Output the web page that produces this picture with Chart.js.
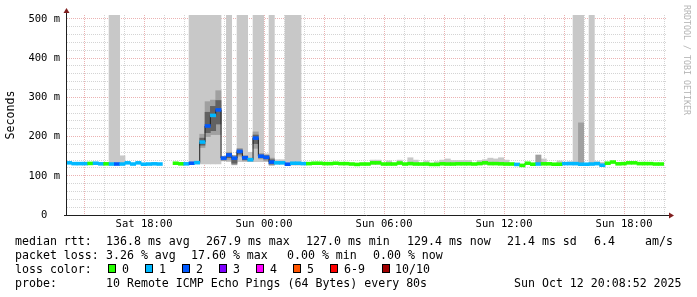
<!DOCTYPE html>
<html>
<head>
<meta charset="utf-8">
<script src="https://cdn.jsdelivr.net/npm/chart.js@4.4.1/dist/chart.umd.min.js"></script>
<style>
  html, body { margin: 0; padding: 0; background: #fff; }
  #wrap { position: relative; width: 697px; height: 297px; overflow: hidden; background: #fff; }
  #c { position: absolute; left: 0; top: 0; }
  .t { position: absolute; font-family: "DejaVu Sans Mono", monospace; font-size: 11.6px; line-height: 14px; white-space: pre; color: #000; }
  .box { position: absolute; top: 264px; width: 6px; height: 7px; border: 1px solid #000; }
  #wm { position: absolute; left: 692px; top: 5px; transform-origin: 0 0; transform: rotate(90deg);
        font-family: "DejaVu Sans Mono", monospace; font-size: 8.3px; line-height: 10px; color: #b4b4b4; white-space: pre; }
</style>
</head>
<body>
<div id="wrap">
  <canvas id="c" width="697" height="297"></canvas>
  <div id="wm">RRDTOOL / TOBI OETIKER</div>

  <div class="t" style="left:15px;top:234px">median rtt:</div>
  <div class="t" style="left:106px;top:234px">136.8 ms avg</div>
  <div class="t" style="left:206px;top:234px">267.9 ms max</div>
  <div class="t" style="left:306px;top:234px">127.0 ms min</div>
  <div class="t" style="left:407px;top:234px">129.4 ms now</div>
  <div class="t" style="left:507px;top:234px">21.4 ms sd</div>
  <div class="t" style="left:594px;top:234px">6.4</div>
  <div class="t" style="left:645px;top:234px">am/s</div>

  <div class="t" style="left:15px;top:248px">packet loss:</div>
  <div class="t" style="left:106px;top:248px">3.26 % avg</div>
  <div class="t" style="left:191px;top:248px">17.60 % max</div>
  <div class="t" style="left:287px;top:248px">0.00 % min</div>
  <div class="t" style="left:373px;top:248px">0.00 % now</div>

  <div class="t" style="left:15px;top:262px">loss color:</div>
  <div id="lossLegend"></div>

  <div class="t" style="left:15px;top:276px">probe:</div>
  <div class="t" style="left:106px;top:276px">10 Remote ICMP Echo Pings (64 Bytes) every 80s</div>
  <div class="t" style="left:514px;top:276px">Sun Oct 12 20:08:52 2025</div>
</div>
<script>
// 16-minute consolidated steps, hours counted from Sat 00:00
const binStartHour = 14.1165;
const binHours = 16 / 60;
const viewStart = 14.148;
const viewEnd = 44.148;

// median rtt per step (ms), null = no data
const medianMs = [
  133, 131, 131, 131, 131.5, 132, 130.5, 130.5, 130, 130,
  130, 133, 130, 133, 129.5, 130, 130.5, 130, null, null,
  132, 130.5, 130.5, 132, 133.5, 186, 227, 254, 268, 145,
  153, 145, 162, 146, 141, 196, 150, 147, 135, 133,
  133, 129.5, 132, 132, 131, 131, 132, 132, 131, 131,
  132, 131, 131, 130, 129, 130, 130, 133, 133, 130,
  130, 130, 132.5, 130, 131, 130, 130, 130, 129, 129,
  130.5, 130, 130, 130.5, 130.5, 130.5, 130, 131, 133, 131,
  131, 130.5, 130, 130, 129, 126.5, 132, 129.5, 130, 130.5,
  130.5, 129.5, 129.5, 131, 131, 131, 129.5, 129.5, 130, 131,
  127, 132, 135, 130.5, 131, 133, 133, 131, 131, 131,
  130, 130
];

// lost pings out of 10 per step
const lossLevel = [
  1, 1, 1, 1, 0, 1, 1, 0, 1, 2,
  1, 1, 1, 1, 1, 1, 1, 1, 0, 0,
  0, 0, 1, 2, 1, 1, 2, 1, 2, 2,
  2, 2, 2, 2, 1, 2, 2, 2, 2, 1,
  1, 2, 1, 1, 1, 0, 0, 0, 0, 0,
  0, 0, 0, 0, 0, 0, 0, 0, 0, 0,
  0, 0, 0, 0, 0, 0, 0, 0, 0, 0,
  0, 0, 0, 0, 0, 0, 0, 0, 0, 0,
  0, 0, 0, 0, 1, 0, 0, 0, 1, 0,
  0, 0, 0, 1, 1, 1, 1, 1, 1, 1,
  1, 0, 0, 0, 0, 0, 0, 0, 0, 0,
  0, 0
];

// outer smoke (min..max ping), only steps where it shows
const lightBins = [8, 9, 10, 23, 24, 25, 26, 27, 28, 30,
  32, 33, 34, 35, 36, 37, 38, 39, 40, 41,
  42, 43, 57, 58, 60, 62, 64, 65, 67, 69,
  70, 71, 72, 73, 74, 75, 77, 78, 79, 80,
  81, 82, 89, 92, 94, 95, 96, 98, 99, 100];
const lightLo = [128, 128, 128, 130, 130, 130, 130, 130, 130, 136,
  136, 136, 136, 136, 136, 136, 128, 130, 130, 127,
  127, 127, 129, 129, 129, 129, 129, 129, 129, 128,
  129, 129, 129, 129, 129, 129, 129, 129, 129, 129,
  129, 129, 129, 128, 129, 128, 128, 128, 128, 126];
const lightHi = [520, 520, 151, 520, 520, 520, 520, 520, 520, 520,
  520, 520, 160, 520, 520, 156, 520, 141, 141, 520,
  520, 520, 140, 140, 138, 140, 146, 140, 138, 136,
  140, 143, 139, 139, 139, 139, 139, 141, 145, 143,
  146, 140, 143, 138, 136, 520, 520, 520, 136, 134];

// middle smoke
const midBins = [25, 26, 27, 28, 29, 30, 31, 32, 33, 34, 35, 36, 37, 38, 88, 96];
const midLo = [172, 200, 205, 205, 138, 140, 128, 150, 138, 137, 170, 143, 138, 127, 129, 128];
const midHi = [206, 289, 293, 317, 150, 160, 152, 170, 152, 145, 212, 157, 153, 145, 153, 235];

// inner smoke
const innerBins = [25, 26, 27, 28, 30, 31, 32, 33, 35, 36, 37, 38];
const innerLo = [178, 210, 215, 232, 146, 132, 155, 141, 182, 146, 143, 130];
const innerHi = [196, 262, 277, 292, 157, 147, 166, 149, 204, 153, 151, 141];

const lossNames = ['0', '1', '2', '3', '4', '5', '6-9', '10/10'];
const lossColors = ['#26ff00', '#00b8ff', '#0059ff', '#7e00ff', '#ff00ff', '#ff5500', '#ff0000', '#a10000'];

const xTickHours = [18, 24, 30, 36, 42];
const xTickLabels = ['Sat 18:00', 'Sun 00:00', 'Sun 06:00', 'Sun 12:00', 'Sun 18:00'];
const yTickValues = [0, 100, 200, 300, 400, 500];
const yTickLabels = ['0  ', '100 m', '200 m', '300 m', '400 m', '500 m'];

const lineHalf = 3.7; // half thickness of the coloured median band, ms
const minorGrid = '#d4d4d4';
const majorGrid = '#ebb2b2';
const axisColor = '#1f1f1f';
const arrowColor = '#801f1f';
const monoFont = '"DejaVu Sans Mono", monospace';

// loss colour legend row
const legendBoxX = [108, 145, 182, 219, 256, 293, 330, 382];
const legendTextX = [122, 159, 196, 233, 270, 307, 344, 395];
const legendEl = document.getElementById('lossLegend');
lossNames.forEach((name, i) => {
  const b = document.createElement('div');
  b.className = 'box';
  b.style.left = legendBoxX[i] + 'px';
  b.style.background = lossColors[i];
  legendEl.appendChild(b);
  const t = document.createElement('div');
  t.className = 't';
  t.style.left = legendTextX[i] + 'px';
  t.style.top = '262px';
  t.textContent = name;
  legendEl.appendChild(t);
});

const binCenter = i => binStartHour + (i + 0.5) * binHours;
const band = (bins, lo, hi) => bins.map((b, k) => ({ x: binCenter(b), y: [lo[k], hi[k]] }));

const medianBars = [];
const medianColors = [];
medianMs.forEach((m, i) => {
  if (m === null) return;
  medianBars.push({ x: binCenter(i), y: [m - lineHalf, m + lineHalf] });
  medianColors.push(lossColors[lossLevel[i]]);
});

const medianSteps = medianMs.map((m, i) => ({ x: binStartHour + i * binHours, y: m }));
medianSteps.push({ x: binStartHour + medianMs.length * binHours, y: medianMs[medianMs.length - 1] });

const hourTicks = [];
for (let h = Math.ceil(viewStart); h <= viewEnd; h++) hourTicks.push(h);
const minorYTicks = [];
for (let v = 0; v <= 500; v += 20) minorYTicks.push(v);

const axesPlugin = {
  id: 'rrdAxes',
  afterDatasetsDraw(chart) {
    const { ctx, chartArea: a } = chart;
    ctx.save();
    ctx.strokeStyle = axisColor;
    ctx.lineWidth = 1;
    ctx.beginPath();
    ctx.moveTo(a.left - 0.5, a.bottom + 0.5);
    ctx.lineTo(a.left - 0.5, a.top - 4);
    ctx.moveTo(a.left - 3, a.bottom + 0.5);
    ctx.lineTo(a.right + 2, a.bottom + 0.5);
    ctx.stroke();
    ctx.fillStyle = arrowColor;
    ctx.beginPath();
    ctx.moveTo(a.left - 0.5, a.top - 7);
    ctx.lineTo(a.left - 3.5, a.top - 2);
    ctx.lineTo(a.left + 2.5, a.top - 2);
    ctx.closePath();
    ctx.fill();
    ctx.beginPath();
    ctx.moveTo(a.right + 7, a.bottom + 0.5);
    ctx.lineTo(a.right + 2, a.bottom - 2.5);
    ctx.lineTo(a.right + 2, a.bottom + 3.5);
    ctx.closePath();
    ctx.fill();
    ctx.restore();
  }
};

new Chart(document.getElementById('c'), {
  type: 'bar',
  data: {
    datasets: [
      { type: 'bar', data: medianBars, backgroundColor: medianColors, borderWidth: 0, grouped: false,
        barPercentage: 1, categoryPercentage: 1, order: 1 },
      { type: 'line', data: medianSteps, borderColor: '#202020', borderWidth: 1, pointRadius: 0,
        stepped: true, spanGaps: false, fill: false, order: 2 },
      { type: 'bar', data: band(innerBins, innerLo, innerHi), backgroundColor: '#626262', borderWidth: 0,
        grouped: false, barPercentage: 1, categoryPercentage: 1, order: 3 },
      { type: 'bar', data: band(midBins, midLo, midHi), backgroundColor: '#a0a0a0', borderWidth: 0,
        grouped: false, barPercentage: 1, categoryPercentage: 1, order: 4 },
      { type: 'bar', data: band(lightBins, lightLo, lightHi), backgroundColor: '#c8c8c8', borderWidth: 0,
        grouped: false, barPercentage: 1, categoryPercentage: 1, order: 5 }
    ]
  },
  options: {
    responsive: false,
    animation: false,
    devicePixelRatio: 1,
    layout: { padding: { top: 15, right: 30, left: 0, bottom: 0 } },
    plugins: { legend: { display: false }, tooltip: { enabled: false } },
    scales: {
      x: {
        type: 'linear',
        min: viewStart,
        max: viewEnd,
        offset: false,
        grid: {
          offset: false,
          drawTicks: false,
          lineWidth: 1,
          color: c => (c.tick && c.tick.value % 3 === 0 ? majorGrid : minorGrid)
        },
        border: { display: false, dash: [1, 1] },
        afterBuildTicks: axis => { axis.ticks = hourTicks.map(v => ({ value: v })); },
        afterFit: s => { s.height = 82; },
        ticks: {
          autoSkip: false,
          maxRotation: 0,
          padding: 3,
          color: '#000',
          font: { family: monoFont, size: 10.5 },
          callback: v => {
            const k = xTickHours.indexOf(v);
            return k >= 0 ? xTickLabels[k] : '';
          }
        }
      },
      y: {
        min: 0,
        max: 510,
        grid: {
          drawTicks: false,
          lineWidth: 1,
          color: c => (c.tick && c.tick.value % 100 === 0 ? majorGrid : minorGrid)
        },
        border: { display: false, dash: [1, 1] },
        afterBuildTicks: axis => { axis.ticks = minorYTicks.map(v => ({ value: v })); },
        afterFit: s => { s.width = 67; },
        title: {
          display: true,
          text: 'Seconds',
          color: '#000',
          font: { family: monoFont, size: 11.6 },
          padding: { top: 4, bottom: 0 }
        },
        ticks: {
          autoSkip: false,
          padding: 7,
          color: '#000',
          font: { family: monoFont, size: 10.5 },
          callback: v => {
            const k = yTickValues.indexOf(v);
            return k >= 0 ? yTickLabels[k] : '';
          }
        }
      }
    }
  },
  plugins: [axesPlugin]
});
</script>
</body>
</html>
